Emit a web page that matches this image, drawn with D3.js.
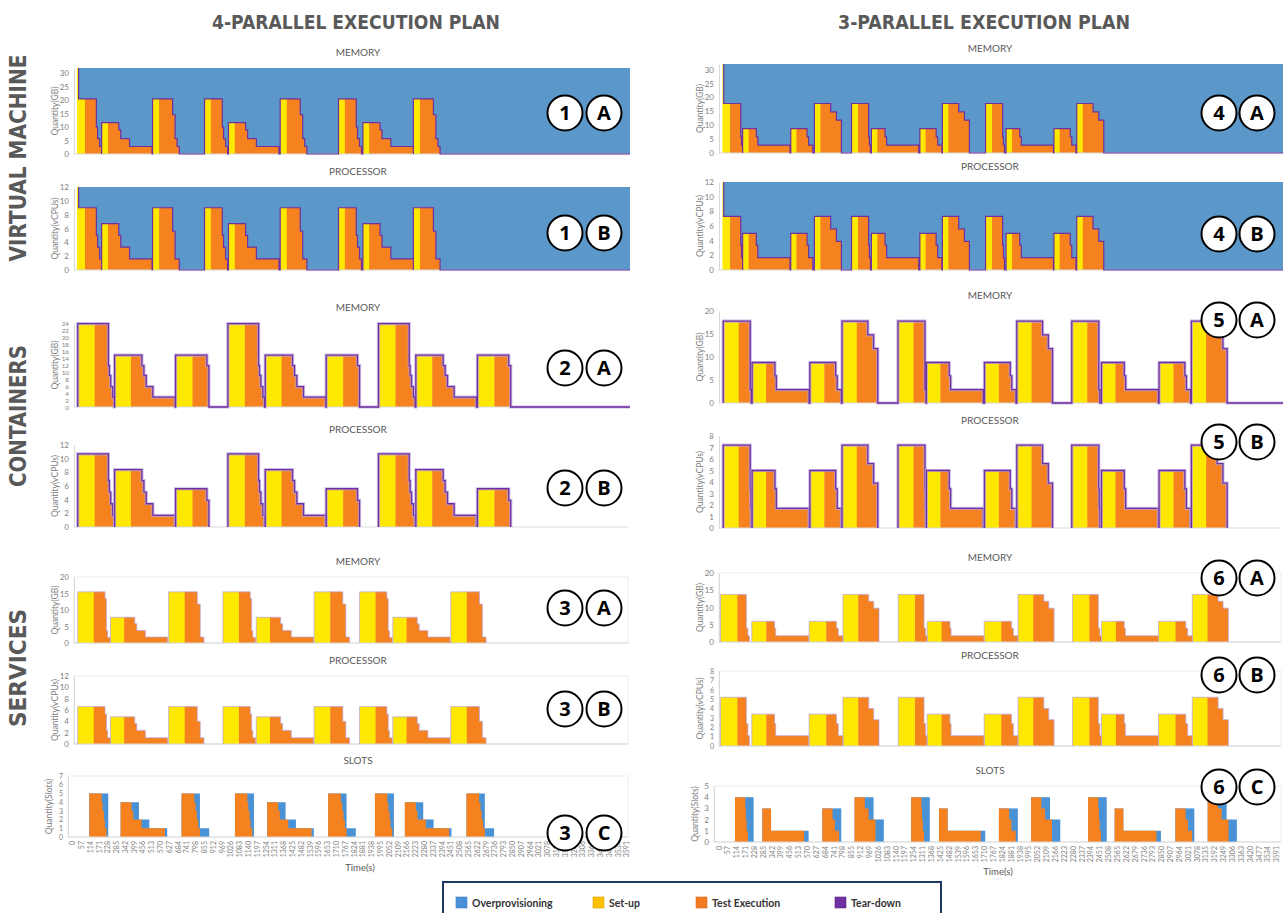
<!DOCTYPE html>
<html>
<head>
<meta charset="utf-8">
<script src="https://cdn.jsdelivr.net/npm/d3@7"></script>
<style>
  body { margin: 0; background: #fff; }
  svg { display: block; }
</style>
</head>
<body>
<svg id="chart" width="1283" height="913"></svg>
<script>
// ---------------------------------------------------------------
// Resource usage of execution plans (seconds on the time axis)
// Each schedule entry: [job profile, start time in s]
// Cuts: end time (s, relative to job start) of each test-execution step
// ---------------------------------------------------------------

const timeTicks = [0,57,114,171,228,285,342,399,456,513,570,627,684,741,798,855,912,969,1026,1083,1140,1197,1254,1311,1368,1425,1482,1539,1596,1653,1710,1767,1824,1881,1938,1995,2052,2109,2166,2223,2280,2337,2394,2451,2508,2565,2622,2679,2736,2793,2850,2907,2964,3021,3078,3135,3192,3249,3306,3363,3420,3477,3534,3591];

// Virtual machine, 4 parallel jobs
const vm4Provision = [30, 41];
const vm4Schedule = [["A",41],["B",190],["C",520],["A",857],["B",1012],["C",1347],["A",1725],["B",1883],["C",2210]];
const vm4Exec = {A: 41, B: 41, C: 43};
const vm4Cuts = {A: [115,123,136,149], B: [111,124,181,327], C: [130,146,159,173]};
const vm4Memory = {A: [20.5,10,5.7,2.8], B: [11.7,9,5.7,2.8], C: [20.5,14.6,5.7,2.8]};
const vm4Cpu = {A: [9,5,3.3,1.6], B: [6.7,5,3.3,1.6], C: [9,5.6,1.6,1.6]};

// Containers, 4 parallel jobs
const cont4Schedule = [["A",35],["B",274],["C",669],["A",1008],["B",1250],["C",1645],["A",1984],["B",2226],["C",2625]];
const cont4Exec = {A: 110, B: 106, C: 110};
const cont4Cuts = {A: [199,205,214,227,238], B: [177,190,205,248,393], C: [203,216]};
const cont4Memory = {A: [23.8,11.8,9,5.8,2.8], B: [14.8,11.8,9,5.8,2.8], C: [14.8,11.8]};
const cont4Cpu = {A: [10.7,6.8,5.1,3.4,1.7], B: [8.4,6.8,5.1,3.4,1.7], C: [5.6,3.9]};

// Services, 4 parallel jobs
const svc4Schedule = [["A",35],["B",247],["C",624],["A",976],["B",1192],["C",1567],["A",1861],["B",2077],["C",2452]];
const svc4Exec = {A: 104, B: 89, C: 104};
const svc4Cuts = {A: [177,186,194,212], B: [158,171,227,371], C: [186,205,229]};
const svc4Memory = {A: [15.5,13.5,3.7,1.7], B: [7.8,5.8,3.8,1.8], C: [15.5,11.8,1.8]};
const svc4Cpu = {A: [6.6,5.3,2.4,1.1], B: [4.8,3.6,2.4,1.1], C: [6.6,4.0,1.1]};

// Service slots, 4 parallel jobs (allocated vs. used)
const slot4Schedule = [["A",110],["B",313],["C",708],["A",1054],["B",1263],["C",1658],["A",1961],["B",2155],["C",2554]];
const slot4AllocCuts = {A: [123], B: [119,186,302], C: [119,179]};
const slot4Alloc = {A: [5], B: [4,2,1], C: [5,1]};
const slot4UsedCuts = {A: [80,86,95,101,112], B: [71,82,136,287], C: [82,91,99,108,119]};
const slot4Used = {A: [5,4,3,2,1], B: [4,3,2,1], C: [5,4,3,2,1]};

// Virtual machine, 3 parallel jobs
const vm3Provision = [24, 32];
const vm3Schedule = [["P",32],["Q",154],["R",464],["S",616],["P",855],["Q",983],["R",1295],["S",1440],["P",1718],["Q",1850],["R",2158],["S",2305]];
const vm3Exec = {P: 42, Q: 39, R: 37, S: 39};
const vm3Cuts = {P: [110,115,122], Q: [88,98,305], R: [105,115,142], S: [105,142,174]};
const vm3Memory = {P: [17.8,5.8,2.8], Q: [8.8,5.8,2.8], R: [8.8,5.8,2.8], S: [17.8,14.8,11.8]};
const vm3Cpu = {P: [7.3,3.4,1.7], Q: [5.0,3.4,1.7], R: [5.0,3.4,1.7], S: [7.3,5.6,3.9]};

// Containers, 3 parallel jobs
const cont3Schedule = [["P",29],["Q",215],["R",587],["S",794],["P",1154],["Q",1337],["R",1711],["S",1919],["P",2273],["Q",2464],["R",2835],["S",3043]];
const cont3Exec = {P: 100, Q: 90, R: 93, S: 95};
const cont3Cuts = {P: [174,177,181], Q: [147,156,367], R: [166,176,203], S: [166,203,230]};
const cont3Memory = {P: [17.8,2.9,2.9], Q: [8.8,5.9,2.9], R: [8.8,5.9,2.9], S: [17.8,14.8,11.8]};
const cont3Cpu = {P: [7.2,3.4,1.7], Q: [5.0,3.4,1.7], R: [5.0,3.4,1.7], S: [7.2,5.6,3.9]};

// Services, 3 parallel jobs
const svc3Schedule = [["P",12],["Q",213],["R",582],["S",800],["P",1156],["Q",1342],["R",1709],["S",1927],["P",2278],["Q",2464],["R",2831],["S",3049]];
const svc3Exec = {P: 108, Q: 93, R: 110, S: 98};
const svc3Cuts = {P: [166,176,186], Q: [147,154,367], R: [176,188,218], S: [166,198,232]};
const svc3Memory = {P: [13.8,4,1.8], Q: [6,4,1.8], R: [6,4,1.8], S: [13.8,11.8,9.8]};
const svc3Cpu = {P: [5.2,2.4,1.1], Q: [3.4,2.4,1.1], R: [3.4,2.4,1.1], S: [5.2,4.0,2.8]};

// Service slots, 3 parallel jobs
const slot3Schedule = [["P",105],["Q",281],["R",667],["S",875],["P",1239],["Q",1418],["R",1804],["S",2011],["P",2378],["Q",2549],["R",2940],["S",3148]];
const slot3AllocCuts = {P: [120], Q: [56,298], R: [122], S: [122,188]};
const slot3Alloc = {P: [4], Q: [3,1], R: [3], S: [4,2]};
const slot3UsedCuts = {P: [66,70,75,83], Q: [56,269], R: [66,81,108], S: [66,90,134]};
const slot3Used = {P: [4,3,2,1], Q: [3,1], R: [3,2,1], S: [4,3,2]};

const legendLabels = ["Overprovisioning", "Set-up", "Test Execution", "Tear-down"];

// ---------------------------------------------------------------
const COL = {
  vmBlue: "#5b97c8", slotBlue: "#4a92d6", yellow: "#ffe800", orange: "#f5821f",
  purple: "#7030a0", lavender: "#b9a3de", axis: "#d9d9d9", tick: "#808080", title: "#595959"
};
const legendColors = ["#4a90d9", "#ffc000", "#f47c20", "#7030a0"];
const FONT = "Lato, 'Open Sans', 'DejaVu Sans', sans-serif";
const NARROW = "'Liberation Sans Narrow', 'DejaVu Sans Condensed', Roboto, sans-serif";

const svg = d3.select("#chart");
svg.append("rect").attr("width", 1283).attr("height", 913).attr("fill", "#fff");

const sides = {
  L: { x: d3.scaleLinear().domain([0, 3591]).range([72.3, 626.5]), x0: 74, x1: 630, slotX0: 68,
       titleX: 358, badgeX: [565, 604] },
  R: { x: d3.scaleLinear().domain([0, 3591]).range([718.7, 1276.5]), x0: 719, x1: 1283, slotX0: 714,
       titleX: 990, badgeX: [1219, 1257] }
};

function buildBlocks(schedule, exec, cuts, vals) {
  return schedule.map(([k, s]) => {
    const c = cuts[k], v = vals[k];
    return {
      start: s, exec: s + exec[k], end: s + c[c.length - 1],
      steps: c.map((ce, i) => ({ t0: s + (i ? c[i - 1] : exec[k]), t1: s + ce, v: v[i] }))
    };
  });
}

function outlinePoints(b) {
  const pts = [[b.start, 0], [b.start, b.steps[0].v]];
  b.steps.forEach((st, i) => {
    const nx = b.steps[i + 1];
    pts.push([st.t1, st.v]);
    pts.push([st.t1, nx ? nx.v : 0]);
  });
  return pts;
}

function panelFrame(p, side) {
  const g = svg.append("g");
  g.append("text").attr("x", side.titleX).attr("y", p.top - 12.5).attr("text-anchor", "middle")
    .attr("font-family", FONT).attr("font-size", 10).attr("fill", COL.title).text(p.title);
  g.append("text")
    .attr("transform", `translate(${(p.slot ? side.slotX0 : side.x0) - 16},${(p.top + p.bottom) / 2}) rotate(-90)`)
    .attr("text-anchor", "middle").attr("font-family", FONT).attr("font-size", 8.5)
    .attr("fill", COL.tick).text(p.yTitle);
  return g;
}

function yAxis(g, p, x0, y) {
  const ax = g.append("g").attr("transform", `translate(${x0},0)`)
    .call(d3.axisLeft(y).tickValues(p.ticks).tickSize(0).tickPadding(5).tickFormat(d => d));
  ax.select(".domain").attr("stroke", COL.axis);
  ax.selectAll("text").attr("fill", COL.tick).attr("font-family", FONT).attr("font-size", p.tickSize || 8);
}

function badges(p, side) {
  p.badge.forEach((lab, i) => {
    const cx = side.badgeX[i], cy = p.badgeY;
    svg.append("circle").attr("cx", cx).attr("cy", cy).attr("r", 17.5)
      .attr("fill", "#fff").attr("stroke", "#000").attr("stroke-width", 2);
    svg.append("text").attr("x", cx).attr("y", cy).attr("dy", "0.36em").attr("text-anchor", "middle")
      .attr("font-family", "'Open Sans', Lato, sans-serif").attr("font-weight", 700)
      .attr("font-size", 20).attr("fill", "#000").text(lab);
  });
}

function drawProfile(p) {
  const side = sides[p.side], x = side.x;
  const y = d3.scaleLinear().domain([0, p.max]).range([p.bottom, p.top]);
  const g = panelFrame(p, side);
  const blocks = buildBlocks(p.schedule, p.exec, p.cuts, p.vals);
  const tEnd = x.invert(side.x1);

  if (p.style === "svc") {
    g.append("rect").attr("x", side.x0).attr("y", p.top).attr("width", side.x1 - 2 - side.x0)
      .attr("height", p.bottom - p.top).attr("fill", "none").attr("stroke", "#ececec");
  }
  if (p.prov) {
    g.append("rect").attr("x", x(p.prov[1])).attr("y", y(p.max))
      .attr("width", side.x1 - x(p.prov[1])).attr("height", y(0) - y(p.max)).attr("fill", COL.vmBlue);
    g.append("rect").attr("x", x(p.prov[0])).attr("y", y(p.max))
      .attr("width", x(p.prov[1]) - x(p.prov[0]) + 0.3).attr("height", y(0) - y(p.max)).attr("fill", COL.yellow);
  }

  const area = d3.area().curve(d3.curveStepAfter)
    .x(d => x(d[0])).y0(y(0)).y1(d => y(d[1]));
  blocks.forEach(b => {
    g.append("rect").attr("x", x(b.start)).attr("y", y(b.steps[0].v))
      .attr("width", x(b.exec) - x(b.start) + 0.4).attr("height", y(0) - y(b.steps[0].v))
      .attr("fill", COL.yellow);
    const pts = b.steps.map(st => [st.t0, st.v]);
    pts.push([b.end, b.steps[b.steps.length - 1].v]);
    g.append("path").attr("d", area(pts)).attr("fill", COL.orange);
  });

  // tear-down outline
  const line = d3.line().x(d => x(d[0])).y(d => y(d[1]));
  const groups = [];
  if (p.zeroLine) {
    let pts = [];
    if (p.prov) pts.push([p.prov[1], p.max]);
    blocks.forEach((b, i) => {
      const bp = outlinePoints(b);
      pts = pts.concat(i === 0 && p.prov ? bp.slice(1) : bp);
    });
    pts.push([tEnd, 0]);
    groups.push(pts);
  } else {
    blocks.forEach(b => groups.push(outlinePoints(b)));
  }

  g.append("line").attr("x1", side.x0).attr("x2", side.x1 - 2).attr("y1", y(0)).attr("y2", y(0))
    .attr("stroke", COL.axis);

  groups.forEach(pts => {
    if (p.style === "cont") {
      g.append("path").attr("d", line(pts)).attr("fill", "none").attr("stroke", COL.lavender)
        .attr("stroke-width", 3.2).attr("stroke-opacity", 0.75);
      g.append("path").attr("d", line(pts)).attr("fill", "none").attr("stroke", COL.purple)
        .attr("stroke-width", 1.3);
    } else if (p.style === "vm") {
      g.append("path").attr("d", line(pts)).attr("fill", "none").attr("stroke", COL.purple)
        .attr("stroke-width", 1.2);
    } else {
      g.append("path").attr("d", line(pts)).attr("fill", "none").attr("stroke", COL.lavender)
        .attr("stroke-width", 0.9).attr("stroke-opacity", 0.8);
    }
  });

  yAxis(g, p, side.x0, y);
  badges(p, side);
}

function drawSlots(p) {
  const side = sides[p.side], x = side.x;
  const y = d3.scaleLinear().domain([0, p.max]).range([p.bottom, p.top]);
  const g = panelFrame(p, side);
  g.append("rect").attr("x", side.slotX0).attr("y", p.top).attr("width", side.x1 - 2 - side.slotX0)
    .attr("height", p.bottom - p.top).attr("fill", "none").attr("stroke", "#ececec");

  const area = d3.area().curve(d3.curveStepAfter).x(d => x(d[0])).y0(y(0)).y1(d => y(d[1]));
  const stepPts = (s, cuts, vals) => {
    const pts = vals.map((v, i) => [s + (i ? cuts[i - 1] : 0), v]);
    pts.push([s + cuts[cuts.length - 1], vals[vals.length - 1]]);
    return pts;
  };
  p.schedule.forEach(([k, s]) => {
    g.append("path").attr("d", area(stepPts(s, p.allocCuts[k], p.alloc[k]))).attr("fill", COL.slotBlue);
    g.append("path").attr("d", area(stepPts(s, p.usedCuts[k], p.used[k]))).attr("fill", COL.orange);
  });

  const xa = g.append("g").attr("transform", `translate(0,${p.bottom})`)
    .call(d3.axisBottom(x).tickValues(timeTicks).tickSize(0).tickFormat(d => d));
  xa.select(".domain").attr("stroke", COL.axis).attr("d", `M${side.slotX0},0H${side.x1 - 2}`);
  xa.selectAll("text").attr("fill", COL.tick).attr("font-family", FONT).attr("font-size", 7)
    .attr("transform", "rotate(-90)").attr("text-anchor", "end")
    .attr("x", -4).attr("y", 0).attr("dy", "0.33em");
  g.append("text").attr("x", side.titleX + (p.side === "L" ? 2 : 8)).attr("y", p.timeY)
    .attr("text-anchor", "middle").attr("font-family", FONT).attr("font-size", 9.5)
    .attr("fill", COL.title).text("Time(s)");
  yAxis(g, p, side.slotX0, y);
  badges(p, side);
}

// ---------------------------------------------------------------
const profilePanels = [
  { side: "L", title: "MEMORY", yTitle: "Quantity(GB)", top: 68, bottom: 154, max: 32, ticks: [0,5,10,15,20,25,30],
    schedule: vm4Schedule, exec: vm4Exec, cuts: vm4Cuts, vals: vm4Memory, prov: vm4Provision,
    style: "vm", zeroLine: true, badge: ["1","A"], badgeY: 113 },
  { side: "L", title: "PROCESSOR", yTitle: "Quantity(vCPUs)", top: 187, bottom: 270, max: 12, ticks: [0,2,4,6,8,10,12],
    schedule: vm4Schedule, exec: vm4Exec, cuts: vm4Cuts, vals: vm4Cpu, prov: vm4Provision,
    style: "vm", zeroLine: true, badge: ["1","B"], badgeY: 233 },
  { side: "L", title: "MEMORY", yTitle: "Quantity(GB)", top: 323, bottom: 407, max: 24, ticks: [0,2,4,6,8,10,12,14,16,18,20,22,24],
    tickSize: 6.3,
    schedule: cont4Schedule, exec: cont4Exec, cuts: cont4Cuts, vals: cont4Memory,
    style: "cont", zeroLine: true, badge: ["2","A"], badgeY: 368 },
  { side: "L", title: "PROCESSOR", yTitle: "Quantity(vCPUs)", top: 445, bottom: 527, max: 12, ticks: [0,2,4,6,8,10,12],
    schedule: cont4Schedule, exec: cont4Exec, cuts: cont4Cuts, vals: cont4Cpu,
    style: "cont", zeroLine: false, badge: ["2","B"], badgeY: 488 },
  { side: "L", title: "MEMORY", yTitle: "Quantity(GB)", top: 577, bottom: 643, max: 20, ticks: [0,5,10,15,20],
    schedule: svc4Schedule, exec: svc4Exec, cuts: svc4Cuts, vals: svc4Memory,
    style: "svc", zeroLine: false, badge: ["3","A"], badgeY: 608 },
  { side: "L", title: "PROCESSOR", yTitle: "Quantity(vCPUs)", top: 676, bottom: 744, max: 12, ticks: [0,2,4,6,8,10,12],
    schedule: svc4Schedule, exec: svc4Exec, cuts: svc4Cuts, vals: svc4Cpu,
    style: "svc", zeroLine: false, badge: ["3","B"], badgeY: 709 },

  { side: "R", title: "MEMORY", yTitle: "Quantity(GB)", top: 64, bottom: 153, max: 32, ticks: [0,5,10,15,20,25,30],
    schedule: vm3Schedule, exec: vm3Exec, cuts: vm3Cuts, vals: vm3Memory, prov: vm3Provision,
    style: "vm", zeroLine: true, badge: ["4","A"], badgeY: 113 },
  { side: "R", title: "PROCESSOR", yTitle: "Quantity(vCPUs)", top: 182, bottom: 270, max: 12, ticks: [0,2,4,6,8,10,12],
    schedule: vm3Schedule, exec: vm3Exec, cuts: vm3Cuts, vals: vm3Cpu, prov: vm3Provision,
    style: "vm", zeroLine: true, badge: ["4","B"], badgeY: 234 },
  { side: "R", title: "MEMORY", yTitle: "Quantity(GB)", top: 311, bottom: 403, max: 20, ticks: [0,5,10,15,20],
    schedule: cont3Schedule, exec: cont3Exec, cuts: cont3Cuts, vals: cont3Memory,
    style: "cont", zeroLine: true, badge: ["5","A"], badgeY: 320 },
  { side: "R", title: "PROCESSOR", yTitle: "Quantity(vCPUs)", top: 436, bottom: 528, max: 8, ticks: [0,1,2,3,4,5,6,7,8],
    schedule: cont3Schedule, exec: cont3Exec, cuts: cont3Cuts, vals: cont3Cpu,
    style: "cont", zeroLine: false, badge: ["5","B"], badgeY: 442 },
  { side: "R", title: "MEMORY", yTitle: "Quantity(GB)", top: 573, bottom: 642, max: 20, ticks: [0,5,10,15,20],
    schedule: svc3Schedule, exec: svc3Exec, cuts: svc3Cuts, vals: svc3Memory,
    style: "svc", zeroLine: false, badge: ["6","A"], badgeY: 578 },
  { side: "R", title: "PROCESSOR", yTitle: "Quantity(vCPUs)", top: 671, bottom: 746, max: 8, ticks: [0,1,2,3,4,5,6,7,8],
    tickSize: 7,
    schedule: svc3Schedule, exec: svc3Exec, cuts: svc3Cuts, vals: svc3Cpu,
    style: "svc", zeroLine: false, badge: ["6","B"], badgeY: 675 }
];

const slotPanels = [
  { side: "L", slot: true, title: "SLOTS", yTitle: "Quantity(Slots)", top: 776, bottom: 837, max: 7, ticks: [0,1,2,3,4,5,6,7],
    tickSize: 7,
    schedule: slot4Schedule, allocCuts: slot4AllocCuts, alloc: slot4Alloc, usedCuts: slot4UsedCuts, used: slot4Used,
    badge: ["3","C"], badgeY: 833, timeY: 871 },
  { side: "R", slot: true, title: "SLOTS", yTitle: "Quantity(Slots)", top: 786, bottom: 842, max: 5, ticks: [0,1,2,3,4,5],
    schedule: slot3Schedule, allocCuts: slot3AllocCuts, alloc: slot3Alloc, usedCuts: slot3UsedCuts, used: slot3Used,
    badge: ["6","C"], badgeY: 787, timeY: 875 }
];

// headings
[["4-PARALLEL EXECUTION PLAN", 356, 288], ["3-PARALLEL EXECUTION PLAN", 984, 292]].forEach(([t, cx, len]) => {
  svg.append("text").attr("x", cx).attr("y", 29).attr("text-anchor", "middle")
    .attr("font-family", NARROW).attr("font-weight", 700).attr("font-size", 20)
    .attr("fill", COL.title).attr("textLength", len).attr("lengthAdjust", "spacingAndGlyphs").text(t);
});
[["VIRTUAL MACHINE", 158, 207], ["CONTAINERS", 416, 142], ["SERVICES", 668, 118]].forEach(([t, cy, len]) => {
  svg.append("text").attr("transform", `translate(26,${cy}) rotate(-90)`).attr("text-anchor", "middle")
    .attr("font-family", NARROW).attr("font-weight", 700).attr("font-size", 23)
    .attr("textLength", len).attr("lengthAdjust", "spacingAndGlyphs")
    .attr("fill", COL.title).text(t);
});

profilePanels.forEach(drawProfile);
slotPanels.forEach(drawSlots);

// legend
const lg = svg.append("g");
lg.append("rect").attr("x", 443).attr("y", 882).attr("width", 498).attr("height", 40)
  .attr("fill", "#fff").attr("stroke", "#1f3864").attr("stroke-width", 2);
const legendX = [456, 593, 696, 835];
legendLabels.forEach((lab, i) => {
  lg.append("rect").attr("x", legendX[i]).attr("y", 897).attr("width", 11).attr("height", 11)
    .attr("fill", legendColors[i]).attr("stroke", d3.color(legendColors[i]).darker(0.4)).attr("stroke-width", 0.6);
  lg.append("text").attr("x", legendX[i] + 16).attr("y", 906.5)
    .attr("font-family", FONT).attr("font-weight", 700).attr("font-size", 10.5)
    .attr("fill", "#333").text(lab);
});
</script>
</body>
</html>
